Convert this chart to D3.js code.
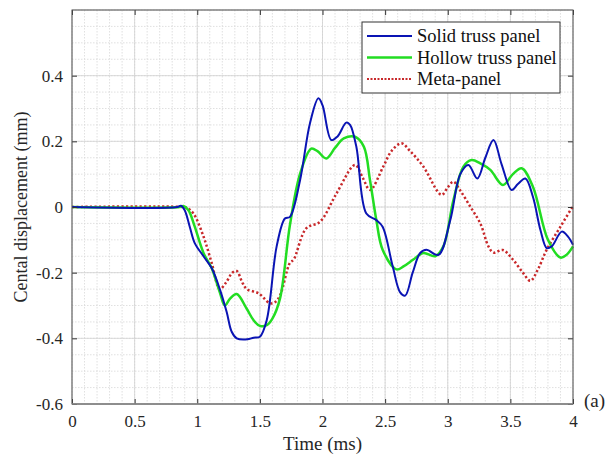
<!DOCTYPE html>
<html>
<head>
<meta charset="utf-8">
<script src="https://cdn.jsdelivr.net/npm/d3@7"></script>
<style>
  body { margin: 0; background: #fff; }
  svg, svg text { font-family: "Liberation Serif", "Times New Roman", Times, "DejaVu Serif", serif; }
</style>
</head>
<body>
<svg id="chart"></svg>
<script>
// data: [time (ms), displacement (mm)]
var solid = [[0,0],[0.84,0],[0.87,0.004],[0.9,-0.01],[0.94,-0.06],[0.98,-0.11],[1.05,-0.15],[1.115,-0.186],[1.18,-0.25],
  [1.235,-0.32],[1.275,-0.38],[1.315,-0.40],[1.4,-0.403],[1.45,-0.398],[1.50,-0.395],[1.555,-0.344],[1.634,-0.12],[1.70,-0.035],
  [1.74,-0.03],[1.82,0.08],[1.90,0.255],[1.967,0.331],[2.0,0.31],[2.07,0.204],[2.12,0.215],[2.19,0.257],[2.22,0.25],[2.27,0.184],
  [2.35,-0.02],[2.43,-0.04],[2.48,-0.06],[2.56,-0.18],[2.62,-0.26],[2.66,-0.27],[2.72,-0.2],[2.78,-0.14],[2.83,-0.13],[2.925,-0.146],
  [3.02,-0.04],[3.10,0.10],[3.165,0.128],[3.236,0.087],[3.3,0.15],[3.365,0.204],[3.43,0.13],[3.51,0.052],[3.56,0.07],[3.62,0.087],
  [3.68,0.031],[3.74,-0.07],[3.79,-0.125],[3.83,-0.12],[3.91,-0.075],[3.96,-0.09],[4.0,-0.115]];
var hollow = [[0,0],[0.86,0],[0.89,0.003],[0.93,-0.01],[0.98,-0.06],[1.05,-0.14],[1.115,-0.186],[1.18,-0.26],[1.22,-0.30],
  [1.26,-0.28],[1.315,-0.265],[1.395,-0.31],[1.45,-0.345],[1.50,-0.362],[1.555,-0.36],[1.60,-0.34],[1.66,-0.28],[1.74,-0.055],
  [1.82,0.10],[1.91,0.178],[1.96,0.17],[2.03,0.148],[2.1,0.18],[2.17,0.209],[2.26,0.214],[2.33,0.184],[2.38,0.08],[2.43,-0.04],
  [2.48,-0.13],[2.59,-0.19],[2.65,-0.18],[2.725,-0.16],[2.805,-0.14],[2.90,-0.15],[2.965,-0.12],[3.045,0.02],[3.125,0.123],
  [3.19,0.143],[3.26,0.133],[3.34,0.113],[3.44,0.067],[3.52,0.1],[3.59,0.118],[3.68,0.062],[3.80,-0.10],[3.90,-0.154],
  [3.95,-0.145],[4.0,-0.12]];
var meta = [[0,0],[0.88,0],[0.92,-0.003],[0.97,-0.02],[1.05,-0.09],[1.115,-0.17],[1.18,-0.25],[1.23,-0.23],[1.28,-0.20],
  [1.315,-0.195],[1.36,-0.23],[1.395,-0.25],[1.49,-0.263],[1.58,-0.293],[1.62,-0.29],[1.66,-0.27],[1.74,-0.17],[1.77,-0.16],
  [1.87,-0.065],[1.98,-0.045],[2.11,0.04],[2.26,0.128],[2.32,0.09],[2.38,0.052],[2.485,0.123],[2.55,0.17],[2.63,0.194],
  [2.70,0.17],[2.805,0.123],[2.95,0.037],[3.00,0.06],[3.045,0.077],[3.10,0.05],[3.18,0.001],[3.26,-0.05],[3.325,-0.12],
  [3.365,-0.139],[3.44,-0.131],[3.52,-0.16],[3.60,-0.2],[3.66,-0.225],[3.72,-0.19],[3.79,-0.13],[3.90,-0.06],[3.99,-0.004],[4.0,0.0]];

var seriesNames = ["Solid truss panel", "Hollow truss panel", "Meta-panel"];
var xTicks = [0, 0.5, 1, 1.5, 2, 2.5, 3, 3.5, 4];
var yTicks = [-0.6, -0.4, -0.2, 0, 0.2, 0.4];

var FONT = "'Liberation Serif', 'Times New Roman', Times, 'DejaVu Serif', serif";

// margins
var W = 614, H = 461;
var margin = { top: 10, right: 41, bottom: 57, left: 72 },
    width = W - margin.left - margin.right,
    height = H - margin.top - margin.bottom;

var svg = d3.select("#chart").attr("width", W).attr("height", H);
var g = svg.append("g").attr("transform", "translate(" + margin.left + "," + margin.top + ")");

var x = d3.scaleLinear().domain([0, 4]).range([0, width]);
var y = d3.scaleLinear().domain([-0.6, 0.6]).range([height, 0]);

// minor grid (dotted)
g.append("g").selectAll("line").data(d3.range(0, 4.0001, 0.1)).enter().append("line")
  .attr("x1", d => x(d)).attr("x2", d => x(d)).attr("y1", 0).attr("y2", height)
  .attr("stroke", "#d8d8d8").attr("stroke-width", 0.8).attr("stroke-dasharray", "1.5,1.5");
g.append("g").selectAll("line").data(d3.range(-0.6, 0.6001, 0.05)).enter().append("line")
  .attr("y1", d => y(d)).attr("y2", d => y(d)).attr("x1", 0).attr("x2", width)
  .attr("stroke", "#d8d8d8").attr("stroke-width", 0.8).attr("stroke-dasharray", "1.5,1.5");
// major grid
g.append("g").selectAll("line").data(xTicks).enter().append("line")
  .attr("x1", d => x(d)).attr("x2", d => x(d)).attr("y1", 0).attr("y2", height)
  .attr("stroke", "#d0d0d0").attr("stroke-width", 0.8);
g.append("g").selectAll("line").data(yTicks.concat([0.6])).enter().append("line")
  .attr("y1", d => y(d)).attr("y2", d => y(d)).attr("x1", 0).attr("x2", width)
  .attr("stroke", "#d0d0d0").attr("stroke-width", 0.8);

// lines
var line = d3.line().x(d => x(d[0])).y(d => y(d[1])).curve(d3.curveCatmullRom.alpha(0.5));
g.append("path").attr("d", line(meta)).attr("fill", "none").attr("stroke", "#c8282a")
  .attr("stroke-width", 2.5).attr("stroke-dasharray", "2.2,2.3");
g.append("path").attr("d", line(hollow)).attr("fill", "none").attr("stroke", "#22dd22").attr("stroke-width", 2.5);
g.append("path").attr("d", line(solid)).attr("fill", "none").attr("stroke", "#0a14b4").attr("stroke-width", 2);

// axes with inward ticks
function styleAxis(sel) {
  sel.attr("font-family", FONT);
  sel.select(".domain").remove();
  sel.selectAll(".tick line").attr("stroke", "#333");
  sel.selectAll("text").attr("fill", "#262626").style("font-size", "17px").style("font-family", FONT);
}
var fmt = d => String(d);
g.append("g").attr("transform", "translate(0," + height + ")")
  .call(d3.axisBottom(x).tickValues(xTicks).tickFormat(fmt).tickSizeInner(-5).tickSizeOuter(0).tickPadding(11))
  .call(styleAxis);
g.append("g")
  .call(d3.axisLeft(y).tickValues(yTicks).tickFormat(fmt).tickSizeInner(-5).tickSizeOuter(0).tickPadding(9))
  .call(styleAxis);
g.append("g")
  .call(d3.axisTop(x).tickValues(xTicks).tickFormat("").tickSizeInner(-5).tickSizeOuter(0))
  .call(styleAxis);
g.append("g").attr("transform", "translate(" + width + ",0)")
  .call(d3.axisRight(y).tickValues(yTicks).tickFormat("").tickSizeInner(-5).tickSizeOuter(0))
  .call(styleAxis);

// box
g.append("rect").attr("width", width).attr("height", height)
  .attr("fill", "none").attr("stroke", "#555").attr("stroke-width", 1);
g.append("line").attr("x1", 0).attr("x2", width).attr("y1", height).attr("y2", height)
  .attr("stroke", "#888").attr("stroke-width", 1.5);

// axis labels
svg.append("text").attr("x", margin.left + width / 2).attr("y", 450).attr("text-anchor", "middle")
  .style("font-family", FONT).style("font-size", "19px").attr("fill", "#262626").text("Time (ms)");
svg.append("text").attr("transform", "translate(27," + (margin.top + height / 2) + ") rotate(-90)")
  .attr("text-anchor", "middle").style("font-family", FONT).style("font-size", "18px").attr("fill", "#262626")
  .text("Cental displacement (mm)");
svg.append("text").attr("x", 584).attr("y", 407).style("font-family", FONT).style("font-size", "19px")
  .attr("fill", "#262626").text("(a)");

// legend
var colors = ["#0a14b4", "#22dd22", "#c8282a"];
var lg = svg.append("g").attr("transform", "translate(362,22)");
lg.append("rect").attr("width", 198).attr("height", 71).attr("fill", "#fff").attr("stroke", "#333").attr("stroke-width", 1);
seriesNames.forEach(function(name, i) {
  var yy = 14 + i * 21.5;
  lg.append("line").attr("x1", 5).attr("x2", 50).attr("y1", yy).attr("y2", yy)
    .attr("stroke", colors[i]).attr("stroke-width", i == 1 ? 2.5 : 2)
    .attr("stroke-dasharray", i == 2 ? "2,1.5" : null);
  lg.append("text").attr("x", 55).attr("y", yy + 6).style("font-family", FONT).style("font-size", "18.5px")
    .attr("fill", "#111").text(name);
});
</script>
</body>
</html>
